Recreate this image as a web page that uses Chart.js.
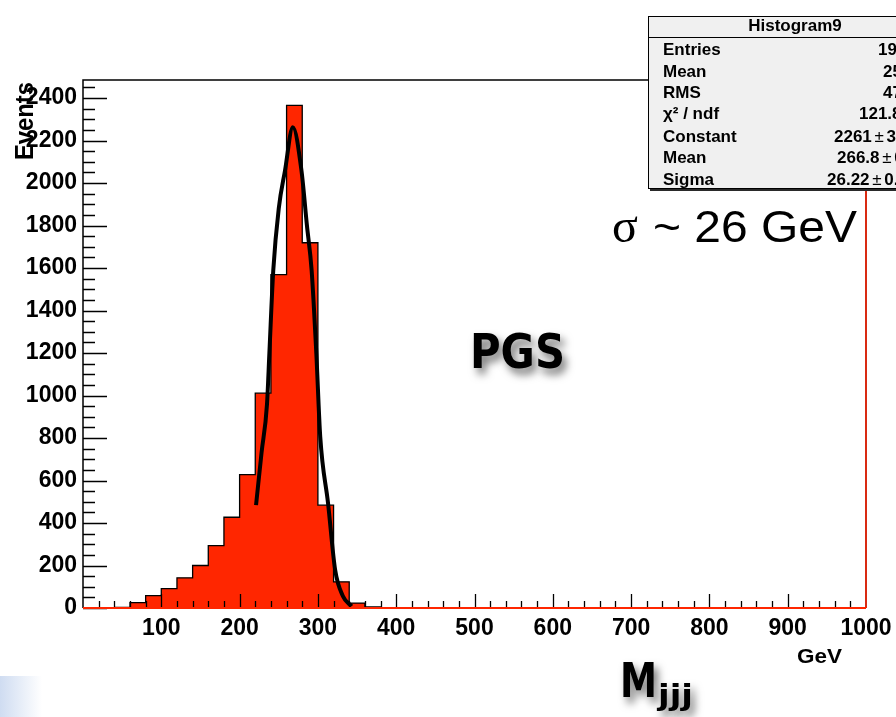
<!DOCTYPE html>
<html>
<head>
<meta charset="utf-8">
<script src="https://cdn.jsdelivr.net/npm/chart.js@4.4.1/dist/chart.umd.min.js"></script>
<style>
  html, body { margin: 0; padding: 0; background: #fff; }
  #wrap { position: relative; width: 896px; height: 717px; }
</style>
</head>
<body>
<div id="wrap"><canvas id="c" width="896" height="717"></canvas></div>
<script>
// ── Data ──────────────────────────────────────────────────────────────
// histogram: lower bin edge (GeV, 20 GeV bins) and events per bin
const binLow = [40, 60, 80, 100, 120, 140, 160, 180, 200, 220, 240, 260, 280, 300, 320, 340, 360, 380];
const counts = [3, 25, 58, 91, 142, 200, 294, 427, 628, 1011, 1569, 2366, 1719, 484, 123, 23, 5, 0];
// gaussian fit line
const fitX = [221, 228, 235, 238, 243, 250, 258, 268, 279, 286, 292, 298, 303, 313, 322, 332, 343];
const fitY = [484, 730, 960, 1197, 1589, 1880, 2059, 2263, 2059, 1800, 1589, 1197, 805, 492, 180, 55, 8];
// axis labels
const xTickLabels = [100, 200, 300, 400, 500, 600, 700, 800, 900, 1000];
const yTickLabels = [0, 200, 400, 600, 800, 1000, 1200, 1400, 1600, 1800, 2000, 2200, 2400];
// stats box
const statNames  = ['Entries', 'Mean', 'RMS', 'χ² / ndf', 'Constant', 'Mean', 'Sigma'];
const statValues = ['19958', '256.2', '47.39', '121.8 / 5', '2261 ± 32.0', '266.8 ± 0.3', '26.22 ± 0.27'];

const RED = '#ff2600';
const SANS = '"Liberation Sans", Arial, sans-serif';
const TAHOMA = '"DejaVu Sans", Verdana, sans-serif';

// tekst som trycks ihop/dras ut till en given bredd
function fitText(ctx, txt, x, y, w, font) {
  ctx.save();
  ctx.font = font;
  const m = ctx.measureText(txt).width;
  ctx.translate(x, y);
  ctx.scale(w / m, 1);
  ctx.textAlign = 'left';
  ctx.textBaseline = 'alphabetic';
  ctx.fillText(txt, 0, 0);
  ctx.restore();
}

const rootDecor = {
  id: 'rootDecor',
  beforeDraw(chart) {
    const ctx = chart.ctx;
    ctx.save();
    ctx.fillStyle = '#fff';
    ctx.fillRect(0, 0, chart.width, chart.height);
    const g = ctx.createLinearGradient(0, 0, 42, 0);
    g.addColorStop(0, '#cfdcf1');
    g.addColorStop(1, '#ffffff');
    ctx.fillStyle = g;
    ctx.fillRect(0, 676, 42, 41);
    ctx.restore();
  },
  afterDatasetsDraw(chart) {
    const { ctx, chartArea: a, scales: { x, y } } = chart;
    ctx.save();
    // ── tick marks, inside the frame ──
    ctx.strokeStyle = '#000';
    ctx.lineWidth = 1.3;
    ctx.beginPath();
    for (let v = 0; v <= y.max; v += 50) {
      const py = Math.round(y.getPixelForValue(v)) + 0.5;
      const len = v % 200 === 0 ? 24 : 12;
      ctx.moveTo(a.left, py); ctx.lineTo(a.left + len, py);
    }
    for (let v = 20; v < 1000; v += 20) {
      const px = Math.round(x.getPixelForValue(v)) + 0.5;
      const len = v % 100 === 0 ? 14 : 7;
      ctx.moveTo(px, a.bottom); ctx.lineTo(px, a.bottom - len);
    }
    ctx.stroke();
    // ── frame ──
    ctx.lineWidth = 1.5;
    ctx.beginPath();
    ctx.moveTo(a.left, a.bottom); ctx.lineTo(a.left, a.top); ctx.lineTo(a.right, a.top);
    ctx.stroke();
    ctx.strokeStyle = '#d92a12';
    ctx.lineWidth = 2;
    ctx.beginPath();
    ctx.moveTo(a.right, a.top); ctx.lineTo(a.right, a.bottom);
    ctx.stroke();
    ctx.strokeStyle = RED;
    ctx.beginPath();
    ctx.moveTo(a.left, a.bottom); ctx.lineTo(a.right, a.bottom);
    ctx.stroke();
    ctx.restore();
  },
  afterDraw(chart) {
    const ctx = chart.ctx;
    ctx.save();

    // ── stats box ──
    ctx.fillStyle = '#2a2a2a';
    ctx.fillRect(650, 188, 260, 3);
    ctx.fillStyle = '#f0f0f0';
    ctx.fillRect(648, 16, 260, 173);
    ctx.strokeStyle = '#000';
    ctx.lineWidth = 1;
    ctx.strokeRect(648.5, 16.5, 260, 172);
    ctx.beginPath();
    ctx.moveTo(648, 37.5); ctx.lineTo(896, 37.5);
    ctx.stroke();
    ctx.fillStyle = '#000';
    ctx.font = 'bold 17px ' + SANS;
    ctx.textAlign = 'center';
    ctx.textBaseline = 'middle';
    ctx.fillText('Histogram9', 795, 26);
    const rowY = [50, 72, 93, 114, 137, 158, 180];
    const valX = [878, 883, 883, 859, 834, 837, 827];
    ctx.textAlign = 'left';
    statNames.forEach((n, i) => {
      ctx.font = 'bold 17px ' + SANS;
      ctx.fillText(n, 663, rowY[i]);
      // ± i tunnare stil, som i ROOT
      const parts = statValues[i].split('±');
      let px = valX[i];
      parts.forEach((p, k) => {
        if (k > 0) {
          ctx.font = '17px ' + SANS;
          ctx.fillText('±', px, rowY[i]);
          px += ctx.measureText('± ').width - 2;
          ctx.font = 'bold 17px ' + SANS;
        }
        const t = k > 0 ? p.trim() : p.trimEnd();
        ctx.fillText(t, px, rowY[i]);
        px += ctx.measureText(t + ' ').width - 2;
      });
    });

    // ── σ ~ 26 GeV ──
    ctx.textBaseline = 'alphabetic';
    ctx.font = '48px "Liberation Serif", serif';
    ctx.fillText('σ', 612, 242);
    fitText(ctx, '~ 26 GeV', 653, 242, 204, '44px ' + SANS);

    // ── axis titles ──
    fitText(ctx, 'GeV', 797, 663, 45, 'bold 20px ' + SANS);
    ctx.save();
    ctx.translate(33, 82);
    ctx.rotate(-Math.PI / 2);
    fitText(ctx, 'Events', -78, 0, 78, 'bold 26px ' + SANS);
    ctx.restore();

    // ── PGS and M_jjj with soft shadow ──
    ctx.shadowColor = 'rgba(0,0,0,0.55)';
    ctx.shadowBlur = 8;
    ctx.shadowOffsetX = 4;
    ctx.shadowOffsetY = 6;
    fitText(ctx, 'PGS', 470, 368, 95, 'bold 48px ' + TAHOMA);
    fitText(ctx, 'M', 620, 697, 37, 'bold 48px ' + TAHOMA);
    fitText(ctx, 'jjj', 658, 705, 35, 'bold 28px ' + TAHOMA);
    ctx.restore();
  }
};

const chart = new Chart(document.getElementById('c'), {
  type: 'line',
  data: {
    datasets: [
      {
        label: 'fit',
        data: fitX.map((v, i) => ({ x: v, y: fitY[i] })),
        borderColor: '#000',
        borderWidth: 4,
        pointRadius: 0,
        cubicInterpolationMode: 'monotone',
        fill: false
      },
      {
        label: 'Histogram9',
        data: binLow.map((v, i) => ({ x: v, y: counts[i] })),
        stepped: 'before',
        fill: 'origin',
        backgroundColor: RED,
        borderColor: '#000',
        borderWidth: 1.3,
        pointRadius: 0
      }
    ]
  },
  options: {
    responsive: false,
    animation: false,
    devicePixelRatio: 1,
    layout: { padding: { top: 80, right: 30, left: 0, bottom: 0 } },
    plugins: { legend: { display: false }, tooltip: { enabled: false } },
    scales: {
      x: {
        type: 'linear', min: 0, max: 1000,
        grid: { display: false, tickLength: 0 }, border: { display: false },
        afterBuildTicks: s => { s.ticks = xTickLabels.map(v => ({ value: v })); },
        afterFit: s => { s.height = 109; s.paddingLeft = 0; s.paddingRight = 0; },
        ticks: { autoSkip: false, maxRotation: 0, padding: 7, color: '#000', callback: v => String(v),
                 font: { family: SANS, size: 23, weight: 'bold' } }
      },
      y: {
        type: 'linear', min: 0, max: 2485,
        grid: { display: false, tickLength: 0 }, border: { display: false },
        afterBuildTicks: s => { s.ticks = yTickLabels.map(v => ({ value: v })); },
        afterFit: s => { s.width = 83; s.paddingTop = 0; s.paddingBottom = 0; },
        ticks: { autoSkip: false, padding: 6, color: '#000', callback: v => String(v),
                 font: { family: SANS, size: 23, weight: 'bold' } }
      }
    }
  },
  plugins: [rootDecor]
});
</script>
</body>
</html>
